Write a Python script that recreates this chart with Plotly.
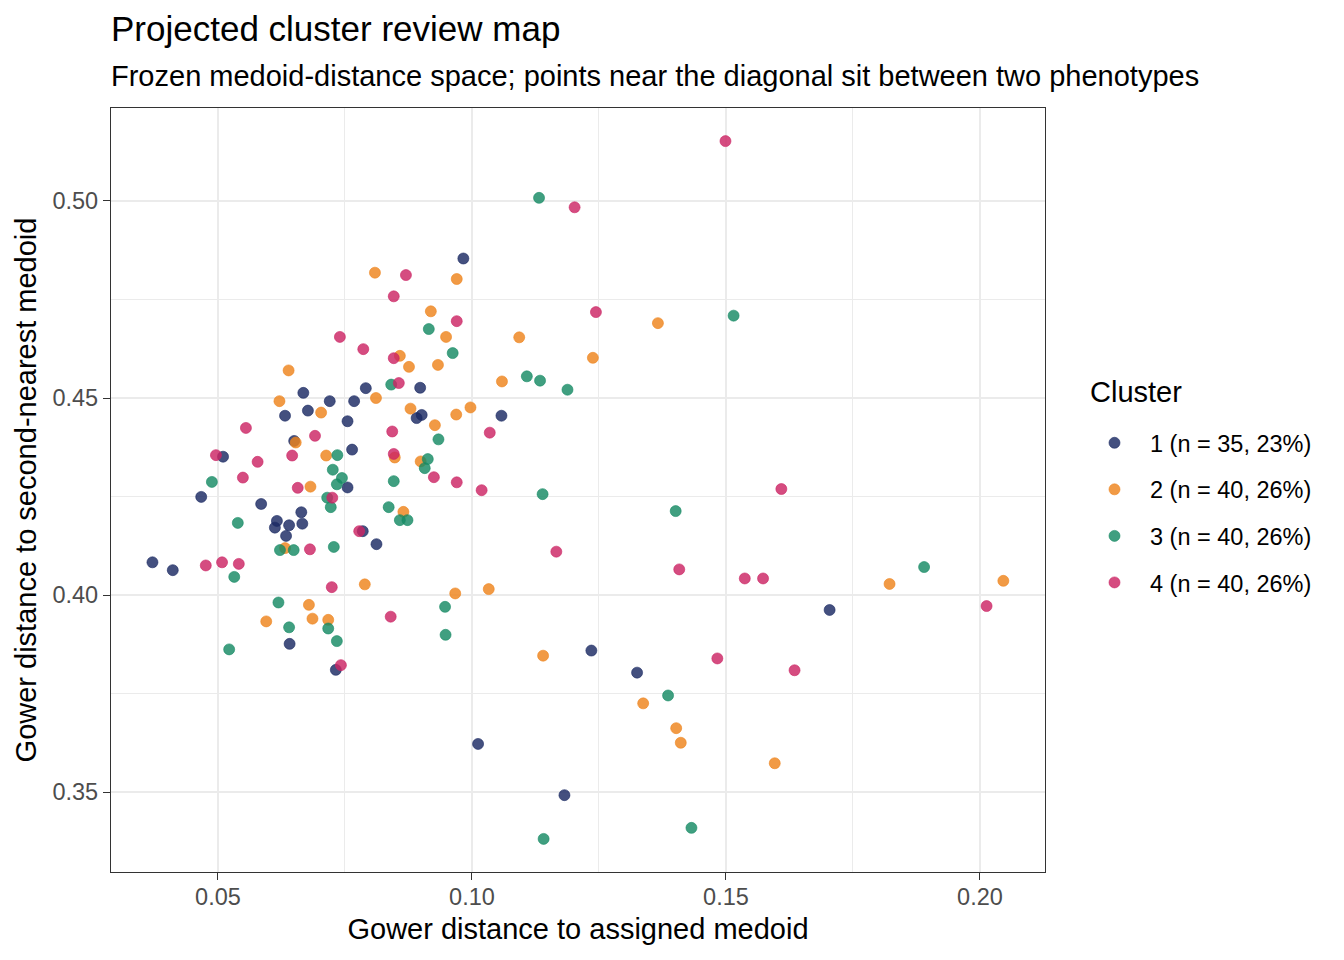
import plotly.graph_objects as go

# ---- data ----
c1_x = [0.0983, 0.0668, 0.0720, 0.0768, 0.0791, 0.0632, 0.0677, 0.0755, 0.0650, 0.0764,
        0.0898, 0.0901, 0.0891, 0.1058, 0.0510, 0.0755, 0.0467, 0.0585, 0.0664, 0.0616,
        0.0612, 0.0640, 0.0666, 0.0634, 0.0785, 0.0812, 0.0371, 0.0411, 0.0641, 0.0732,
        0.1235, 0.1704, 0.1325, 0.1012, 0.1182]
c1_y = [0.4854, 0.4513, 0.4492, 0.4492, 0.4525, 0.4455, 0.4468, 0.4441, 0.4391, 0.4369,
        0.4526, 0.4457, 0.4449, 0.4455, 0.4351, 0.4273, 0.4249, 0.4231, 0.4210, 0.4188,
        0.4171, 0.4177, 0.4181, 0.4150, 0.4162, 0.4129, 0.4083, 0.4063, 0.3876, 0.3810,
        0.3859, 0.3962, 0.3803, 0.3622, 0.3492]

c2_x = [0.0809, 0.0639, 0.0621, 0.0811, 0.0703, 0.0653, 0.0970, 0.0919, 0.0949, 0.1093,
        0.1238, 0.0858, 0.0876, 0.0933, 0.1059, 0.0879, 0.0969, 0.0997, 0.0927, 0.0713,
        0.0682, 0.0632, 0.0789, 0.0679, 0.0595, 0.0686, 0.0717, 0.0848, 0.0899, 0.0865,
        0.0967, 0.1033, 0.1140, 0.1366, 0.1822, 0.2046, 0.1337, 0.1402, 0.1411, 0.1596]
c2_y = [0.4818, 0.4570, 0.4492, 0.4500, 0.4463, 0.4387, 0.4802, 0.4720, 0.4655, 0.4654,
        0.4602, 0.4607, 0.4579, 0.4584, 0.4542, 0.4473, 0.4458, 0.4476, 0.4431, 0.4354,
        0.4275, 0.4119, 0.4027, 0.3975, 0.3933, 0.3940, 0.3937, 0.4349, 0.4339, 0.4211,
        0.4004, 0.4015, 0.3846, 0.4690, 0.4028, 0.4036, 0.3725, 0.3662, 0.3625, 0.3573]

c3_x = [0.0735, 0.0915, 0.0962, 0.1108, 0.1134, 0.1188, 0.0841, 0.0934, 0.0726, 0.0744,
        0.0734, 0.0488, 0.0715, 0.0722, 0.0539, 0.0622, 0.0649, 0.0728, 0.0532, 0.0619,
        0.0640, 0.0717, 0.0734, 0.0522, 0.0913, 0.0907, 0.0846, 0.1139, 0.0836, 0.0858,
        0.0873, 0.0947, 0.0948, 0.1132, 0.1515, 0.1401, 0.1890, 0.1386, 0.1141, 0.1432]
c3_y = [0.4355, 0.4675, 0.4614, 0.4555, 0.4544, 0.4521, 0.4534, 0.4395, 0.4318, 0.4297,
        0.4281, 0.4287, 0.4247, 0.4223, 0.4183, 0.4114, 0.4114, 0.4122, 0.4046, 0.3981,
        0.3918, 0.3915, 0.3883, 0.3862, 0.4345, 0.4322, 0.4289, 0.4256, 0.4223, 0.4190,
        0.4190, 0.3970, 0.3899, 0.5008, 0.4709, 0.4213, 0.4071, 0.3745, 0.3381, 0.3409]

c4_x = [0.0740, 0.0786, 0.0555, 0.0691, 0.0870, 0.0846, 0.0970, 0.1244, 0.0846, 0.0856,
        0.0843, 0.1035, 0.0496, 0.0578, 0.0646, 0.0549, 0.0657, 0.0725, 0.0778, 0.0681,
        0.0476, 0.0508, 0.0541, 0.0724, 0.0742, 0.0846, 0.0925, 0.0970, 0.1019, 0.1166,
        0.0840, 0.1499, 0.1202, 0.1609, 0.1408, 0.1537, 0.1573, 0.2013, 0.1483, 0.1635]
c4_y = [0.4655, 0.4624, 0.4424, 0.4404, 0.4812, 0.4758, 0.4695, 0.4718, 0.4601, 0.4538,
        0.4415, 0.4412, 0.4355, 0.4338, 0.4354, 0.4298, 0.4272, 0.4247, 0.4162, 0.4116,
        0.4075, 0.4083, 0.4079, 0.4020, 0.3822, 0.4358, 0.4299, 0.4286, 0.4266, 0.4110,
        0.3945, 0.5152, 0.4984, 0.4269, 0.4065, 0.4042, 0.4042, 0.3972, 0.3839, 0.3809]

cluster_names = ["1 (n = 35, 23%)", "2 (n = 40, 26%)", "3 (n = 40, 26%)", "4 (n = 40, 26%)"]
cluster_fill = ["rgba(27,42,99,0.82)", "rgba(238,132,28,0.82)",
                "rgba(22,138,100,0.82)", "rgba(204,36,100,0.82)"]
cluster_edge = ["rgba(27,42,99,0.6)", "rgba(238,132,28,0.6)",
                "rgba(22,138,100,0.6)", "rgba(204,36,100,0.6)"]

xs = [c1_x, c2_x, c3_x, c4_x]
ys = [c1_y, c2_y, c3_y, c4_y]

FONT = "Liberation Sans, Arial, sans-serif"

fig = go.Figure()
for i in range(4):
    fig.add_trace(go.Scatter(
        x=xs[i], y=ys[i], mode="markers", name=cluster_names[i],
        legendgroup=str(i),
        marker=dict(size=11, color=cluster_fill[i],
                    line=dict(width=1, color=cluster_edge[i])),
    ))

W, H = 1344, 960
L, R, T, B = 111, 299, 108, 88
ph = H - T - B
pw = W - L - R

def py2paper(py):
    return 1 + (T - py) / ph

def px2paper(px):
    return (px - L) / pw

axis_common = dict(
    showgrid=True, gridcolor="#EBEBEB", gridwidth=1.8,
    minor=dict(showgrid=True, gridcolor="#EBEBEB", gridwidth=0.9, dtick=0.025),
    showline=True, linecolor="#333333", linewidth=1.3, mirror=True,
    ticks="outside", ticklen=7, tickwidth=1.3, tickcolor="#333333",
    tickfont=dict(family=FONT, size=23.5, color="#4D4D4D"),
    zeroline=False, tickformat=".2f", dtick=0.05, tick0=0,
)

fig.update_layout(
    width=W, height=H,
    margin=dict(l=L, r=R, t=T, b=B, pad=0),
    plot_bgcolor="white", paper_bgcolor="white",
    font=dict(family=FONT, color="black"),
    showlegend=True,
    legend=dict(
        x=px2paper(1079), xanchor="left", y=py2paper(421), yanchor="top",
        font=dict(family=FONT, size=23.5, color="black"),
        tracegroupgap=13, traceorder="grouped", itemwidth=61,
        bgcolor="rgba(0,0,0,0)",
    ),
    xaxis=dict(axis_common, range=[0.02894, 0.2128], ticklabelstandoff=-3,
               title=dict(text="Gower distance to assigned medoid",
                          font=dict(family=FONT, size=29, color="black"), standoff=9)),
    yaxis=dict(axis_common, range=[0.3297, 0.5236],
               title=dict(text="Gower distance to second-nearest medoid",
                          font=dict(family=FONT, size=29, color="black"), standoff=7)),
    annotations=[
        dict(text="Projected cluster review map", x=px2paper(109), xref="paper", xanchor="left",
             y=py2paper(29), yref="paper", yanchor="middle", showarrow=False,
             font=dict(family=FONT, size=35, color="black")),
        dict(text="Frozen medoid-distance space; points near the diagonal sit between two phenotypes",
             x=px2paper(109), xref="paper", xanchor="left",
             y=py2paper(76), yref="paper", yanchor="middle", showarrow=False,
             font=dict(family=FONT, size=29, color="black")),
        dict(text="Cluster", x=px2paper(1088), xref="paper", xanchor="left",
             y=py2paper(392), yref="paper", yanchor="middle", showarrow=False,
             font=dict(family=FONT, size=29, color="black")),
    ],
)

fig.write_html("out.html", config={"displayModeBar": False},
               post_script="document.body.style.margin='0';")
